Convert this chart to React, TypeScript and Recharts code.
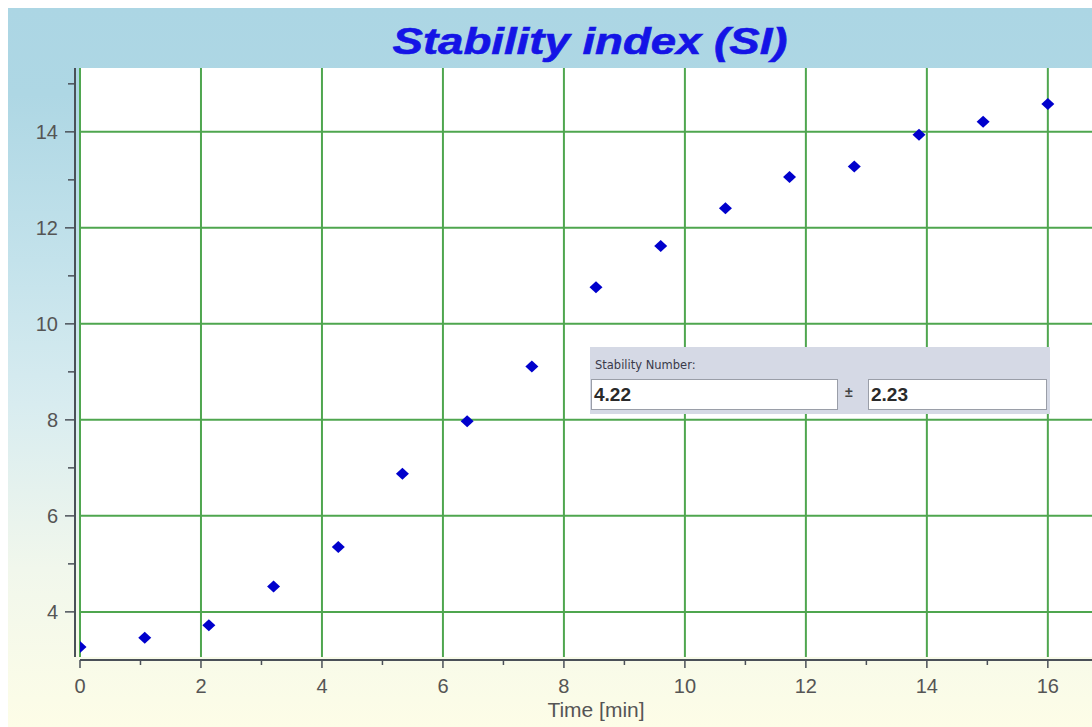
import React from 'react';
import {
  ScatterChart,
  Scatter,
  XAxis,
  YAxis,
  CartesianGrid,
} from 'recharts';

// measurement times in minutes (one reading every 64 s)
const times = [0, 1.07, 2.13, 3.2, 4.27, 5.33, 6.4, 7.47, 8.53, 9.6, 10.67, 11.73, 12.8, 13.87, 14.93, 16.0];
const stabilityIndex = [3.27, 3.46, 3.72, 4.53, 5.35, 6.88, 7.97, 9.11, 10.76, 11.62, 12.41, 13.06, 13.28, 13.94, 14.21, 14.58];

const xTicks = [0, 1, 2, 3, 4, 5, 6, 7, 8, 9, 10, 11, 12, 13, 14, 15, 16];
const yTicks = [4, 5, 6, 7, 8, 9, 10, 11, 12, 13, 14, 15];
const xGrid = [0, 2, 4, 6, 8, 10, 12, 14, 16];
const yGrid = [4, 6, 8, 10, 12, 14];

const stabilityNumber = '4.22';
const stabilityError = '2.23';

const data = times.map((t, i) => ({ t, si: stabilityIndex[i] }));

const W = 1084;
const H = 719;
const axisColor = '#4a5058';
const labelColor = '#555';
const font = '"Liberation Sans", Arial, sans-serif';

const YTick = (props: any) => {
  const { x, y, payload } = props;
  const major = payload.value % 2 === 0;
  return (
    <g>
      <line x1={x - (major ? 15 : 12)} x2={x - 5} y1={y} y2={y} stroke={axisColor} strokeWidth={1.5} />
      {major && (
        <text x={x - 22} y={y} dy="0.36em" textAnchor="end" fontSize={20} fill={labelColor} fontFamily={font}>
          {payload.value}
        </text>
      )}
    </g>
  );
};

const XTick = (props: any) => {
  const { x, y, payload } = props;
  const major = payload.value % 2 === 0;
  return (
    <g>
      <line x1={x} x2={x} y1={y + 3} y2={y + (major ? 11 : 8)} stroke={axisColor} strokeWidth={1.5} />
      {major && (
        <text x={x} y={y + 36} textAnchor="middle" fontSize={20} fill={labelColor} fontFamily={font}>
          {payload.value}
        </text>
      )}
    </g>
  );
};

const Diamond = (props: any) => {
  const { cx, cy } = props;
  return (
    <polygon
      points={`${cx},${cy - 6} ${cx + 6.5},${cy} ${cx},${cy + 6} ${cx - 6.5},${cy}`}
      fill="#0000cc"
    />
  );
};

const inputStyle: React.CSSProperties = {
  position: 'absolute',
  top: 32,
  height: 31,
  boxSizing: 'border-box',
  background: '#fff',
  border: '1px solid #9a9ea8',
  fontFamily: font,
  fontSize: 19,
  fontWeight: 700,
  color: '#2a2a2a',
  lineHeight: '29px',
  paddingLeft: 2,
};

export default function App() {
  return (
    <div style={{ position: 'fixed', left: 0, top: 0, width: 1092, height: 727, background: '#fff', overflow: 'hidden' }}>
      <div
        style={{
          position: 'absolute',
          left: 8,
          top: 8,
          width: W,
          height: H,
          background:
            'linear-gradient(to bottom, #acd6e4 0%, #aed7e4 12%, #c3e2eb 35%, #d8ecf0 55%, #f1f7ec 78%, #fdfde7 100%)',
        }}
      >
        <svg width={W} height={60} style={{ position: 'absolute', left: 0, top: 0 }}>
          <text
            x={582}
            y={46}
            textAnchor="middle"
            fontFamily={font}
            fontSize={36}
            fontWeight={700}
            fontStyle="italic"
            fill="#1414e6"
            stroke="#1414e6"
            strokeWidth={0.6}
            textLength={395}
            lengthAdjust="spacingAndGlyphs"
          >
            Stability index (SI)
          </text>
        </svg>
        <ScatterChart width={W} height={H} margin={{ top: 60, right: 0, bottom: 0, left: 0 }} style={{ position: 'absolute', left: 0, top: 0 }}>
          <CartesianGrid
            fill="#ffffff"
            stroke="#4fa64f"
            strokeWidth={2}
            horizontalValues={yGrid}
            verticalValues={xGrid}
          />
          <XAxis
            type="number"
            dataKey="t"
            domain={[0, 16.73]}
            ticks={xTicks}
            allowDataOverflow
            height={70}
            tickSize={0}
            tickMargin={0}
            tick={<XTick />}
            axisLine={{ stroke: axisColor, strokeWidth: 2, transform: 'translate(0,3)' }}
            interval={0}
          />
          <YAxis
            type="number"
            dataKey="si"
            domain={[3.06, 15.33]}
            ticks={yTicks}
            allowDataOverflow
            width={72}
            tickSize={0}
            tickMargin={0}
            tick={<YTick />}
            axisLine={{ stroke: axisColor, strokeWidth: 2, transform: 'translate(-5,0)' }}
            interval={0}
          />
          <Scatter data={data} shape={<Diamond />} isAnimationActive={false} />
        </ScatterChart>
        <div
          style={{
            position: 'absolute',
            left: 582,
            top: 339,
            width: 460,
            height: 67,
            background: '#d5d9e5',
          }}
        >
          <div
            style={{
              position: 'absolute',
              left: 5,
              top: 11,
              fontFamily: '"DejaVu Sans", sans-serif',
              fontSize: 11.5,
              color: '#3a3a4a',
            }}
          >
            Stability Number:
          </div>
          <div style={{ ...inputStyle, left: 1, width: 247 }}>{stabilityNumber}</div>
          <div
            style={{
              position: 'absolute',
              left: 255,
              top: 37,
              fontFamily: font,
              fontSize: 14,
              fontWeight: 700,
              color: '#444',
            }}
          >
            ±
          </div>
          <div style={{ ...inputStyle, left: 278, width: 179 }}>{stabilityError}</div>
        </div>
        <div
          style={{
            position: 'absolute',
            left: 0,
            width: 1176,
            top: 690,
            textAlign: 'center',
            fontFamily: font,
            fontSize: 21,
            color: labelColor,
          }}
        >
          Time [min]
        </div>
      </div>
    </div>
  );
}
